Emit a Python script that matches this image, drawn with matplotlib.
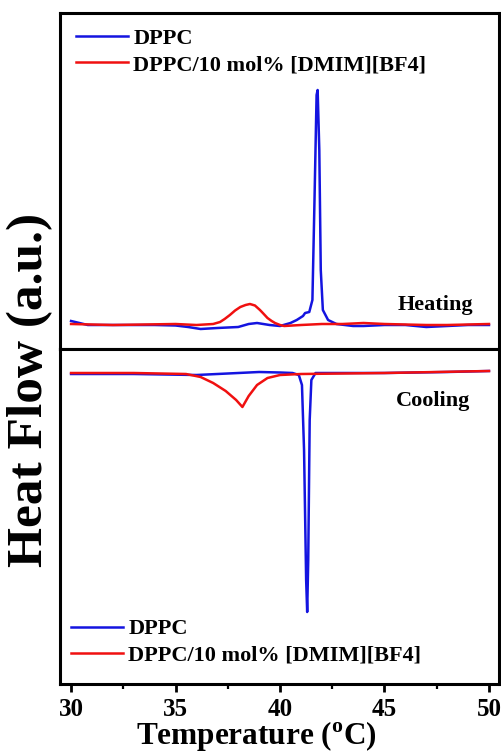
import matplotlib
matplotlib.use("Agg")
import matplotlib.pyplot as plt
from matplotlib.ticker import MultipleLocator

plt.rcParams['font.family'] = ['Liberation Serif', 'DejaVu Serif']
plt.rcParams['font.weight'] = 'bold'
plt.rcParams['mathtext.fontset'] = 'custom'
plt.rcParams['mathtext.rm'] = 'Liberation Serif:bold'
plt.rcParams['mathtext.bf'] = 'Liberation Serif:bold'

# ---- data (heat flow in arbitrary units) ----
t_dppc_heat = [30.0, 30.8, 32, 34, 35, 35.6, 36.2, 37, 38, 38.5, 38.9, 39.5, 40, 40.5,
               40.8, 41.1, 41.2, 41.4, 41.55, 41.65, 41.75, 41.8, 41.88, 41.95, 42.05,
               42.3, 42.7, 43.5, 44, 45, 46, 47, 48, 49, 50]
hf_dppc_heat = [28, 24, 24, 24, 23.5, 22, 20, 21, 22, 25, 26, 24, 23, 26,
                29, 33, 36, 37, 49, 149, 254, 259, 199, 79, 39,
                29, 25, 23, 23, 24, 24, 22, 23, 24, 24]

t_il_heat = [30, 32, 35, 36, 36.8, 37.13, 37.35, 37.6, 37.85, 38.1, 38.35, 38.56, 38.8,
             39.04, 39.2, 39.4, 39.6, 39.76, 40.0, 40.2, 41, 42, 43, 44, 45, 47, 48, 50]
hf_il_heat = [25, 24, 25, 24, 25, 27, 30, 34, 38.5, 42, 44, 45, 43.5,
              39, 35.5, 31, 28, 26, 24, 23, 24, 25, 25, 26, 25, 24, 24, 25]

t_dppc_cool = [30, 33, 36, 38, 39, 40, 40.6, 40.9, 41.05, 41.15, 41.25, 41.3, 41.35,
               41.42, 41.5, 41.7, 43, 45, 48, 50]
hf_dppc_cool = [310, 310, 309, 311, 312, 311.5, 311, 309, 299, 234, 104, 72, 124,
                264, 304, 311, 311, 311, 312, 313]

t_il_cool = [30, 33, 35.5, 36.2, 36.8, 37.4, 37.9, 38.2, 38.5, 38.9, 39.4, 40, 41, 45, 50]
hf_il_cool = [311, 311, 310, 307, 301, 293, 284, 277, 288, 299, 306, 309, 310, 311, 313]

labels = ['DPPC', 'DPPC/10 mol% [DMIM][BF4]']
x_ticks = [30, 35, 40, 45, 50]

blue = '#1414e0'
red = '#f01010'

fig = plt.figure(figsize=(5.02, 7.54), dpi=100)
left = 60 / 502
width = (499 - 60) / 502
ax1 = fig.add_axes([left, 1 - 349 / 754, width, 336 / 754])
ax2 = fig.add_axes([left, 1 - 684 / 754, width, 335 / 754])

ax1.plot(t_dppc_heat, hf_dppc_heat, color=blue, lw=1.8, label=labels[0])
ax1.plot(t_il_heat, hf_il_heat, color=red, lw=1.8, label=labels[1])
ax2.plot(t_dppc_cool, hf_dppc_cool, color=blue, lw=1.8, label=labels[0])
ax2.plot(t_il_cool, hf_il_cool, color=red, lw=1.8, label=labels[1])

for ax in (ax1, ax2):
    ax.set_xlim(29.47, 50.48)
    ax.set_xticks(x_ticks)
    ax.xaxis.set_minor_locator(MultipleLocator(2.5))
    ax.set_yticks([])
    for s in ax.spines.values():
        s.set_linewidth(2.2)
    ax.tick_params(axis='x', which='major', direction='out', length=6, width=2,
                   labelsize=18, pad=4)
    ax.tick_params(axis='x', which='minor', direction='out', length=3.5, width=1.6)
ax1.set_ylim(0, 336)
ax2.set_ylim(0, 335)
ax1.tick_params(axis='x', labelbottom=False)

leg_kw = dict(frameon=False, fontsize=16, handlelength=2.35, handletextpad=0.25,
              labelspacing=0.25, borderaxespad=0.3)
leg1 = ax1.legend(loc='upper left', **leg_kw)
leg2 = ax2.legend(loc='lower left', bbox_to_anchor=(-5 / 439, 3 / 335), **leg_kw)

ax1.text(49.23, 44, 'Heating', ha='right', va='center', fontsize=16, fontweight='bold')
ax2.text(49.09, 283, 'Cooling', ha='right', va='center', fontsize=16, fontweight='bold')

fig.text(256 / 502, 1 - 736 / 754, r'Temperature ($^{\mathrm{o}}$C)', ha='center',
         va='center', fontsize=22.5, fontweight='bold')
fig.text(30 / 502, 1 - 390 / 754, 'Heat Flow (a.u.)', rotation=90, ha='center',
         va='center', fontsize=37, fontweight='bold')

fig.savefig('out.png', dpi=100)
